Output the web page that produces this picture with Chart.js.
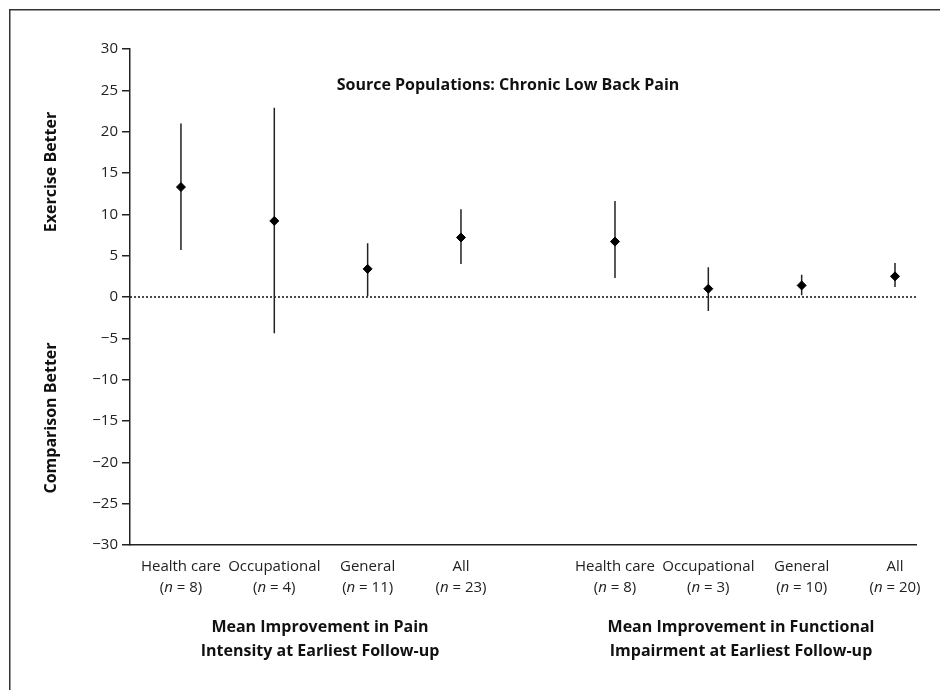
<!DOCTYPE html>
<html>
<head>
<meta charset="utf-8">
<script src="https://cdn.jsdelivr.net/npm/chart.js@4.4.1/dist/chart.umd.min.js"></script>
<style>
  html, body { margin: 0; padding: 0; background: #fff; }
  #wrap { width: 940px; height: 690px; }
</style>
</head>
<body>
<div id="wrap"><canvas id="c" width="940" height="690"></canvas></div>
<script>
// ---- data ----
const categories = ["Health care", "Occupational", "General", "All", "Health care", "Occupational", "General", "All"];
const sampleSizes = [8, 4, 11, 23, 8, 3, 10, 20];
const xPositions = [1, 2, 3, 4, 5.65, 6.65, 7.65, 8.65];
const meanImprovement = [13.3, 9.2, 3.4, 7.2, 6.7, 1.0, 1.4, 2.5];
const ciLower = [5.7, -4.4, 0.1, 4.0, 2.3, -1.7, 0.2, 1.2];
const ciUpper = [21.0, 22.9, 6.5, 10.6, 11.6, 3.6, 2.7, 4.1];
const groupTitles = [
  ["Mean Improvement in Pain", "Intensity at Earliest Follow-up"],
  ["Mean Improvement in Functional", "Impairment at Earliest Follow-up"]
];
const chartTitle = "Source Populations: Chronic Low Back Pain";
const yAxisTitles = ["Exercise Better", "Comparison Better"];
const yMin = -30, yMax = 30, yStep = 5;
const xMin = 0.454, xMax = 8.875;

const FONT = "'Open Sans', 'DejaVu Sans', sans-serif";

// error-bar segments separated by gaps
const errorData = [];
xPositions.forEach((x, i) => {
  errorData.push({ x: x, y: ciLower[i] });
  errorData.push({ x: x, y: ciUpper[i] });
  errorData.push({ x: x, y: null });
});
const pointData = xPositions.map((x, i) => ({ x: x, y: meanImprovement[i] }));
const zeroLine = [{ x: xMin, y: 0 }, { x: xMax, y: 0 }];

const decorPlugin = {
  id: 'decor',
  beforeDraw(chart) {
    const ctx = chart.ctx;
    ctx.save();
    ctx.fillStyle = '#fff';
    ctx.fillRect(0, 0, chart.width, chart.height);
    ctx.strokeStyle = '#333';
    ctx.lineWidth = 1.5;
    ctx.strokeRect(9.75, 9.75, chart.width + 20, chart.height + 20);
    ctx.restore();
  },
  afterDraw(chart) {
    const ctx = chart.ctx;
    const xs = chart.scales.x;
    ctx.save();
    ctx.fillStyle = '#111';
    ctx.textAlign = 'center';
    ctx.textBaseline = 'middle';
    // title inside plot
    ctx.font = "bold 16px " + FONT;
    ctx.fillText(chartTitle, 508, 85);
    // y-axis side titles
    ctx.save();
    ctx.translate(51, 172);
    ctx.rotate(-Math.PI / 2);
    ctx.fillText(yAxisTitles[0], 0, 0);
    ctx.restore();
    ctx.save();
    ctx.translate(51, 418);
    ctx.rotate(-Math.PI / 2);
    ctx.fillText(yAxisTitles[1], 0, 0);
    ctx.restore();
    // category labels
    ctx.fillStyle = '#222';
    categories.forEach((cat, i) => {
      const px = xs.getPixelForValue(xPositions[i]);
      ctx.font = "15px " + FONT;
      ctx.textAlign = 'center';
      ctx.fillText(cat, px, 567);
      // "(n = N)" with italic n
      const pre = "(";
      const post = " = " + sampleSizes[i] + ")";
      ctx.font = "15px " + FONT;
      const wPre = ctx.measureText(pre).width;
      const wPost = ctx.measureText(post).width;
      ctx.font = "italic 15px " + FONT;
      const wN = ctx.measureText("n").width;
      const total = wPre + wN + wPost;
      let cx = px - total / 2;
      ctx.textAlign = 'left';
      ctx.font = "15px " + FONT;
      ctx.fillText(pre, cx, 588); cx += wPre;
      ctx.font = "italic 15px " + FONT;
      ctx.fillText("n", cx, 588); cx += wN;
      ctx.font = "15px " + FONT;
      ctx.fillText(post, cx, 588);
    });
    // group titles
    ctx.fillStyle = '#111';
    ctx.textAlign = 'center';
    ctx.font = "bold 16px " + FONT;
    const centers = [320, 741];
    groupTitles.forEach((lines, g) => {
      ctx.fillText(lines[0], centers[g], 627);
      ctx.fillText(lines[1], centers[g], 651);
    });
    ctx.restore();
  }
};

new Chart(document.getElementById('c'), {
  type: 'scatter',
  data: {
    datasets: [
      {
        type: 'line',
        data: zeroLine,
        borderColor: '#111',
        borderWidth: 1.5,
        borderDash: [2, 2],
        pointRadius: 0,
        fill: false,
        order: 3
      },
      {
        type: 'line',
        data: errorData,
        borderColor: '#222',
        borderWidth: 1.5,
        pointRadius: 0,
        spanGaps: false,
        fill: false,
        order: 2
      },
      {
        type: 'scatter',
        data: pointData,
        pointStyle: 'rectRot',
        pointRadius: 4.5,
        backgroundColor: '#000',
        borderColor: '#000',
        borderWidth: 1,
        order: 1
      }
    ]
  },
  options: {
    responsive: false,
    animation: false,
    events: [],
    layout: { padding: { left: 0, top: 49, right: 24, bottom: 0 } },
    plugins: { legend: { display: false }, tooltip: { enabled: false }, title: { display: false } },
    scales: {
      x: {
        type: 'linear',
        min: xMin,
        max: xMax,
        grid: { display: false },
        border: { display: true, color: '#222', width: 1.5 },
        ticks: { display: false },
        afterFit(scale) { scale.height = 145; }
      },
      y: {
        type: 'linear',
        min: yMin,
        max: yMax,
        ticks: {
          stepSize: yStep,
          color: '#222',
          padding: 4,
          font: { family: FONT, size: 15 },
          callback: (v) => v < 0 ? '\u2212' + Math.abs(v) : String(v)
        },
        grid: { display: true, drawOnChartArea: false, drawTicks: true, tickLength: 8, color: '#222', lineWidth: 1.5 },
        border: { display: true, color: '#222', width: 1.5 },
        afterFit(scale) { scale.width = 130; }
      }
    }
  },
  plugins: [decorPlugin]
});
</script>
</body>
</html>
